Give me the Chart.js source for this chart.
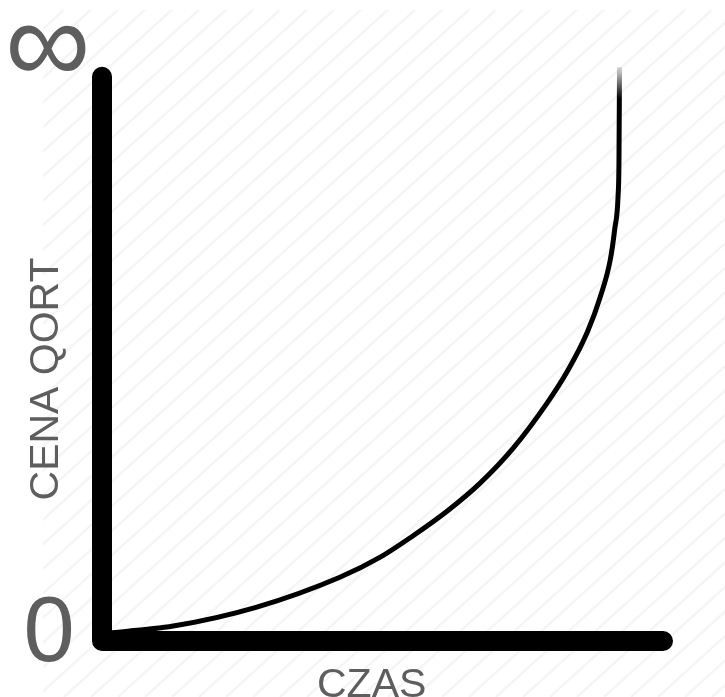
<!DOCTYPE html>
<html>
<head>
<meta charset="utf-8">
<script src="https://cdn.jsdelivr.net/npm/chart.js@4/dist/chart.umd.min.js"></script>
<style>
  html, body { margin: 0; padding: 0; background: #fff; }
  #wrap { width: 725px; height: 697px; position: relative; }
</style>
</head>
<body>
<div id="wrap"><canvas id="price_chart"></canvas></div>
<script>
// curve (x = time, y = price, both 0..100)
var curveX = [0, 12.7, 27.6, 42.4, 49.6, 55.4, 61.5, 67.4, 73.3, 79.3, 82.9, 86.5, 88.8, 90.6, 91.4, 92.0, 92.15, 92.25];
var curveY = [1.3, 2.6, 5.9, 11.1, 14.6, 18.3, 22.6, 27.5, 33.6, 41.4, 46.9, 53.8, 59.9, 66.4, 71.8, 77.7, 83.4, 100];

// the two thick axes: top of y axis, corner, end of x axis
var axisX = [0, 0, 100];
var axisY = [98.3, 0, 0];

var yTickLabels = ["0", "\u221E"];
var yTitle = "CENA QORT";
var xTitle = "CZAS";

function toPoints(xs, ys) {
  return xs.map(function(x, i) { return { x: x, y: ys[i] }; });
}

// faint diagonal stripes behind everything
var stripes = {
  id: 'stripes',
  beforeDraw: function(chart) {
    var ctx = chart.ctx;
    ctx.save();
    ctx.beginPath();
    ctx.rect(43, 10, chart.width - 43, chart.height - 10);
    ctx.clip();
    ctx.strokeStyle = '#f5f5f5';
    ctx.lineWidth = 2.5;
    for (var x0 = -800; x0 < chart.width + 800; x0 += 27) {
      ctx.beginPath();
      ctx.moveTo(x0, chart.height);
      ctx.lineTo(x0 + chart.height * 1.1, 0);
      ctx.stroke();
    }
    ctx.restore();
  }
};

// draw text centred on its ink box
function inkText(ctx, txt, cx, cy) {
  var m = ctx.measureText(txt);
  var w = m.actualBoundingBoxLeft + m.actualBoundingBoxRight;
  var h = m.actualBoundingBoxAscent + m.actualBoundingBoxDescent;
  ctx.fillText(txt, cx - w / 2 + m.actualBoundingBoxLeft, cy - h / 2 + m.actualBoundingBoxAscent);
}

var labels = {
  id: 'labels',
  afterDraw: function(chart) {
    var ctx = chart.ctx;
    var ys = chart.scales.y;
    ctx.save();
    ctx.fillStyle = '#5e5e5e';
    ctx.textAlign = 'left';
    ctx.textBaseline = 'alphabetic';

    ctx.font = '92px "Liberation Sans", Arial, sans-serif';
    inkText(ctx, yTickLabels[0], 49, ys.getPixelForValue(0) - 12);

    ctx.font = '120px "Liberation Sans", Arial, sans-serif';
    inkText(ctx, yTickLabels[1], 48, 48);

    ctx.font = '41px "Liberation Sans", Arial, sans-serif';
    ctx.save();
    ctx.translate(48, 378);
    ctx.rotate(-Math.PI / 2);
    inkText(ctx, yTitle, 0, 0);
    ctx.restore();

    ctx.fillText(xTitle, 317, 697);
    ctx.restore();
  }
};

var ctxEl = document.getElementById('price_chart');
var priceChart = new Chart(ctxEl, {
  type: 'line',
  data: {
    datasets: [{
      label: 'axes',
      data: toPoints(axisX, axisY),
      borderColor: '#000',
      borderWidth: 20,
      borderCapStyle: 'round',
      borderJoinStyle: 'round',
      tension: 0,
      pointRadius: 0,
      clip: false,
      order: 0
    }, {
      label: 'cena',
      data: toPoints(curveX, curveY),
      borderColor: function(c) {
        var area = c.chart.chartArea;
        if (!area) return '#000';
        var g = c.chart.ctx.createLinearGradient(0, area.top, 0, area.top + 32);
        g.addColorStop(0, 'rgba(0,0,0,0.12)');
        g.addColorStop(1, '#000');
        return g;
      },
      borderWidth: 5,
      cubicInterpolationMode: 'monotone',
      pointRadius: 0,
      clip: false,
      order: 1
    }]
  },
  options: {
    responsive: true,
    maintainAspectRatio: false,
    animation: false,
    layout: { padding: { left: 102, right: 62, top: 67, bottom: 56 } },
    plugins: { legend: { display: false }, tooltip: { enabled: false } },
    scales: {
      x: { type: 'linear', min: 0, max: 100, display: false },
      y: { type: 'linear', min: 0, max: 100, display: false }
    }
  },
  plugins: [stripes, labels]
});
</script>
</body>
</html>
